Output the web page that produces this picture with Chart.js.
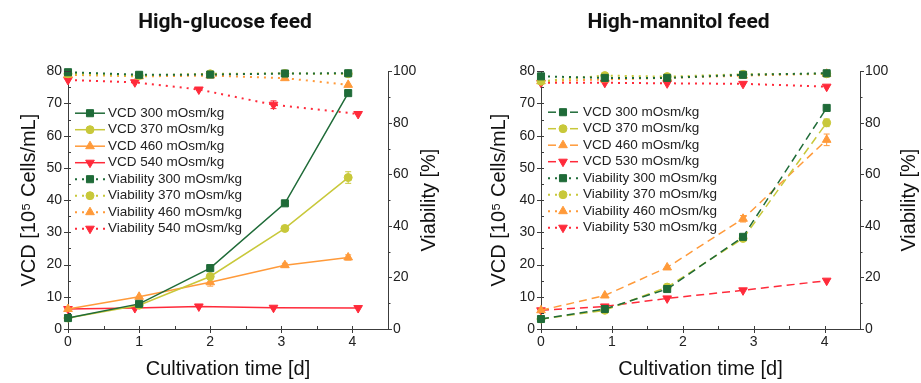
<!DOCTYPE html>
<html>
<head>
<meta charset="utf-8">
<script src="https://cdn.jsdelivr.net/npm/chart.js@4.4.1/dist/chart.umd.min.js"></script>
<style>
  html, body { margin: 0; padding: 0; background: #fff; width: 921px; height: 383px; overflow: hidden; position: relative; }
  canvas { position: absolute; top: 0; }
  #glc { left: 0; }
  #man { left: 436px; }
</style>
</head>
<body>
<canvas id="glc" width="450" height="383"></canvas>
<canvas id="man" width="485" height="383"></canvas>
<script>
// ---------- axis ticks ----------
const timeTicks = [0, 1, 2, 3, 4];
const vcdTicks = [0, 10, 20, 30, 40, 50, 60, 70, 80];
const viabilityTicks = [0, 20, 40, 60, 80, 100];

// ---------- high-glucose feed ----------
const glcTime = [0, 1, 2, 3.05, 3.94];
const glcTime540 = [0, 0.94, 1.84, 2.89, 4.08];
const glcVcd300 = [3.4, 7.8, 18.9, 39.0, 73.2];
const glcVcd370 = [3.4, 7.4, 16.3, 31.2, 47.0];
const glcVcd460 = [6.2, 10.0, 14.5, 19.8, 22.2];
const glcVcd540 = [6.2, 6.5, 7.0, 6.6, 6.5];
const glcVia300 = [99.6, 98.6, 98.7, 99.1, 99.2];
const glcVia370 = [99.0, 98.3, 99.0, 99.1, 99.0];
const glcVia460 = [98.6, 98.0, 98.3, 97.3, 94.7];
const glcVia540 = [96.6, 95.7, 92.9, 87.0, 83.4];
// standard deviations (only the visible ones are non-zero)
const glcVcd370Sd = [0, 0, 0, 0, 1.8];
const glcVcd460Sd = [0, 0, 1.2, 0.6, 0.8];
const glcVia540Sd = [0, 0, 0, 1.5, 0];

// ---------- high-mannitol feed ----------
const manTime = [0, 0.9, 1.78, 2.85, 4.03];
const manVcd300 = [3.1, 6.2, 12.4, 28.6, 68.6];
const manVcd370 = [3.1, 5.8, 13.0, 28.1, 64.0];
const manVcd460 = [5.8, 10.4, 19.1, 34.2, 58.7];
const manVcd530 = [5.8, 7.0, 9.5, 12.0, 15.0];
const manVia300 = [98.0, 97.4, 97.4, 98.6, 99.2];
const manVia370 = [96.1, 98.3, 97.9, 98.8, 99.0];
const manVia460 = [96.1, 96.8, 97.4, 98.3, 99.0];
const manVia530 = [95.5, 95.5, 95.3, 95.1, 94.0];
const manVcd370Sd = [0, 0, 0, 0, 1.2];
const manVcd460Sd = [0, 0, 0, 1.0, 1.8];

// ---------- styling ----------
const GREEN = '#1f6b38';
const YELLOW = '#c8c83a';
const ORANGE = '#ff9a3a';
const RED = '#ff2a3a';
const TEXT_FONT = "'Liberation Sans', Arial, sans-serif";

const markers = {
  square: { pointStyle: 'rect', pointRadius: 5, pointRotation: 0 },
  circle: { pointStyle: 'circle', pointRadius: 4, pointRotation: 0 },
  up:     { pointStyle: 'triangle', pointRadius: 5, pointRotation: 0 },
  down:   { pointStyle: 'triangle', pointRadius: 5, pointRotation: 180 }
};
const strokes = {
  solid:  { borderWidth: 1.5, borderDash: [] },
  dashed: { borderWidth: 1.5, borderDash: [8, 5] },
  dotted: { borderWidth: 2, borderDash: [2, 5] }
};

function series(label, xs, ys, color, marker, stroke, axis, sd) {
  const m = markers[marker];
  const s = strokes[stroke];
  return {
    label,
    data: xs.map((x, i) => ({ x, y: ys[i] })),
    errors: sd || null,
    yAxisID: axis,
    borderColor: color,
    backgroundColor: color,
    pointBackgroundColor: color,
    pointBorderColor: color,
    pointBorderWidth: 1,
    pointStyle: m.pointStyle,
    pointRadius: m.pointRadius,
    pointRotation: m.pointRotation,
    borderWidth: s.borderWidth,
    borderDash: s.borderDash,
    tension: 0,
    fill: false,
    clip: false
  };
}

// error bars (± one standard deviation) drawn behind the markers
const errorBars = {
  id: 'errorBars',
  beforeDatasetsDraw(chart) {
    const { ctx } = chart;
    ctx.save();
    ctx.setLineDash([]);
    ctx.lineWidth = 1;
    chart.data.datasets.forEach((ds, i) => {
      if (!ds.errors) return;
      const meta = chart.getDatasetMeta(i);
      const yScale = chart.scales[ds.yAxisID];
      const xScale = chart.scales.x;
      ctx.strokeStyle = ds.borderColor;
      ds.data.forEach((p, j) => {
        const e = ds.errors[j];
        if (!e) return;
        const px = xScale.getPixelForValue(p.x);
        const top = yScale.getPixelForValue(p.y + e);
        const bot = yScale.getPixelForValue(p.y - e);
        ctx.beginPath();
        ctx.moveTo(px, top); ctx.lineTo(px, bot);
        ctx.moveTo(px - 3, top); ctx.lineTo(px + 3, top);
        ctx.moveTo(px - 3, bot); ctx.lineTo(px + 3, bot);
        ctx.stroke();
      });
    });
    ctx.restore();
  }
};

// tick marks: majors cross the axis line, minors are short
const axisTicks = {
  id: 'axisTicks',
  afterDraw(chart, _args, o) {
    const { ctx, chartArea: a } = chart;
    const { x, y, y1 } = chart.scales;
    const isMajor = (scale, v) => scale.ticks.some(t => Math.abs(t.value - v) < 1e-9);
    const snap = v => Math.round(v) + 0.5;
    const seg = (ax, ay, bx, by) => { ctx.beginPath(); ctx.moveTo(ax, ay); ctx.lineTo(bx, by); ctx.stroke(); };
    ctx.save();
    ctx.strokeStyle = o.color;
    ctx.lineWidth = 1;
    ctx.setLineDash([]);
    for (let k = 0; x.min + k * o.xStep <= x.max + 1e-9; k++) {
      const v = x.min + k * o.xStep;
      const px = snap(x.getPixelForValue(v));
      if (isMajor(x, v)) seg(px, a.bottom - 3, px, a.bottom + 4);
      else seg(px, a.bottom - 3, px, a.bottom);
    }
    for (let k = 0; y.min + k * o.yStep <= y.max + 1e-9; k++) {
      const v = y.min + k * o.yStep;
      const py = snap(y.getPixelForValue(v));
      if (isMajor(y, v)) seg(a.left - 4, py, a.left + 3, py);
      else seg(a.left, py, a.left + 3, py);
    }
    for (let k = 0; y1.min + k * o.y1Step <= y1.max + 1e-9; k++) {
      const v = y1.min + k * o.y1Step;
      const py = snap(y1.getPixelForValue(v));
      if (isMajor(y1, v)) seg(a.right, py, a.right + 4, py);
      else seg(a.right, py, a.right + 2.5, py);
    }
    ctx.restore();
  }
};

// right-hand axis title, reading bottom to top like the left one
const rightAxisTitle = {
  id: 'rightAxisTitle',
  afterDraw(chart, _args, o) {
    const { ctx, chartArea: a } = chart;
    ctx.save();
    ctx.translate(chart.width - o.inset, (a.top + a.bottom) / 2);
    ctx.rotate(-Math.PI / 2);
    ctx.font = o.font;
    ctx.fillStyle = o.color;
    ctx.textAlign = 'center';
    ctx.textBaseline = 'middle';
    ctx.fillText(o.text, 0, 0);
    ctx.restore();
  }
};

// legend drawn inside the plot: line sample with its marker, then the label
const inlineLegend = {
  id: 'inlineLegend',
  afterDraw(chart, _args, o) {
    const { ctx, chartArea: a } = chart;
    ctx.save();
    ctx.font = o.font;
    ctx.textBaseline = 'middle';
    ctx.textAlign = 'left';
    chart.data.datasets.forEach((ds, i) => {
      const yy = a.top + o.top + i * o.rowHeight;
      const x0 = a.left + o.left;
      const x1 = x0 + o.sample;
      ctx.strokeStyle = ds.borderColor;
      ctx.lineWidth = ds.borderWidth;
      const dash = ds.borderDash || [];
      if (dash.length && dash[0] > 4) {
        ctx.setLineDash([]);
        const d = dash[0];
        ctx.beginPath(); ctx.moveTo(x0, yy); ctx.lineTo(x0 + d, yy); ctx.stroke();
        ctx.beginPath(); ctx.moveTo(x1 - d, yy); ctx.lineTo(x1, yy); ctx.stroke();
      } else {
        ctx.setLineDash(dash);
        ctx.beginPath(); ctx.moveTo(x0, yy); ctx.lineTo(x1, yy); ctx.stroke();
      }
      ctx.setLineDash([]);
      ctx.fillStyle = ds.pointBackgroundColor;
      ctx.strokeStyle = ds.pointBorderColor;
      ctx.lineWidth = 1;
      Chart.helpers.drawPoint(ctx, {
        pointStyle: ds.pointStyle, rotation: ds.pointRotation, radius: ds.pointRadius, borderWidth: 1
      }, (x0 + x1) / 2, yy);
      ctx.fillStyle = o.color;
      ctx.fillText(ds.label, x1 + o.gap, yy);
    });
    ctx.restore();
  }
};

function makeChart(id, title, datasets, geo) {
  const fixedTicks = arr => scale => { scale.ticks = arr.map(v => ({ value: v })); };
  return new Chart(document.getElementById(id), {
    type: 'line',
    data: { datasets },
    plugins: [errorBars, axisTicks, inlineLegend, rightAxisTitle],
    options: {
      responsive: false,
      animation: false,
      events: [],
      layout: { padding: 0 },
      scales: {
        x: {
          type: 'linear', position: 'bottom', min: 0, max: 4.5,
          afterBuildTicks: fixedTicks(timeTicks),
          afterFit: s => { s.height = geo.bottom; },
          grid: { display: false, drawTicks: false },
          border: { display: true, color: '#3c3c3c', width: 1 },
          ticks: { padding: 5, color: '#222', font: { family: TEXT_FONT, size: 14 } },
          title: { display: true, text: 'Cultivation time [d]', color: '#111',
                   font: { family: TEXT_FONT, size: 20 }, padding: { top: 0, bottom: 2 } }
        },
        y: {
          type: 'linear', position: 'left', min: 0, max: 80,
          afterBuildTicks: fixedTicks(vcdTicks),
          afterFit: s => { s.width = geo.left; },
          grid: { display: false, drawTicks: false },
          border: { display: true, color: '#3c3c3c', width: 1 },
          ticks: { padding: 6, color: '#222', font: { family: TEXT_FONT, size: 14 } },
          title: { display: true, text: 'VCD [10⁵ Cells/mL]', color: '#111',
                   font: { family: TEXT_FONT, size: 20 }, padding: { top: geo.leftTitle, bottom: 0 } }
        },
        y1: {
          type: 'linear', position: 'right', min: 0, max: 100,
          afterBuildTicks: fixedTicks(viabilityTicks),
          afterFit: s => { s.width = geo.right; },
          grid: { display: false, drawTicks: false },
          border: { display: true, color: '#3c3c3c', width: 1 },
          ticks: { padding: 5, color: '#222', font: { family: TEXT_FONT, size: 14 } },
          title: { display: false }
        }
      },
      plugins: {
        legend: { display: false },
        tooltip: { enabled: false },
        title: {
          display: true, text: title, color: '#111',
          font: { family: "Roboto, 'Liberation Sans', sans-serif", size: 21, weight: 'bold' },
          padding: { top: 10, bottom: 36 }
        },
        axisTicks: { color: '#3c3c3c', xStep: 0.5, yStep: 5, y1Step: 10 },
        rightAxisTitle: {
          text: 'Viability [%]', font: "20px 'Liberation Sans', Arial, sans-serif",
          color: '#111', inset: geo.rightTitleInset
        },
        inlineLegend: {
          font: "13.5px 'Liberation Sans', Arial, sans-serif", color: '#222',
          left: 7, top: geo.legendTop, rowHeight: 16.5, sample: 30, gap: geo.legendGap
        }
      }
    }
  });
}

makeChart('glc', 'High-glucose feed', [
  series('VCD 300 mOsm/kg', glcTime, glcVcd300, GREEN, 'square', 'solid', 'y'),
  series('VCD 370 mOsm/kg', glcTime, glcVcd370, YELLOW, 'circle', 'solid', 'y', glcVcd370Sd),
  series('VCD 460 mOsm/kg', glcTime, glcVcd460, ORANGE, 'up', 'solid', 'y', glcVcd460Sd),
  series('VCD 540 mOsm/kg', glcTime540, glcVcd540, RED, 'down', 'solid', 'y'),
  series('Viability 300 mOsm/kg', glcTime, glcVia300, GREEN, 'square', 'dotted', 'y1'),
  series('Viability 370 mOsm/kg', glcTime, glcVia370, YELLOW, 'circle', 'dotted', 'y1'),
  series('Viability 460 mOsm/kg', glcTime, glcVia460, ORANGE, 'up', 'dotted', 'y1'),
  series('Viability 540 mOsm/kg', glcTime540, glcVia540, RED, 'down', 'dotted', 'y1', glcVia540Sd)
], { left: 68, right: 62, bottom: 54, leftTitle: 17, rightTitleInset: 21, legendTop: 42, legendGap: 3 });

makeChart('man', 'High-mannitol feed', [
  series('VCD 300 mOsm/kg', manTime, manVcd300, GREEN, 'square', 'dashed', 'y'),
  series('VCD 370 mOsm/kg', manTime, manVcd370, YELLOW, 'circle', 'dashed', 'y', manVcd370Sd),
  series('VCD 460 mOsm/kg', manTime, manVcd460, ORANGE, 'up', 'dashed', 'y', manVcd460Sd),
  series('VCD 530 mOsm/kg', manTime, manVcd530, RED, 'down', 'dashed', 'y'),
  series('Viability 300 mOsm/kg', manTime, manVia300, GREEN, 'square', 'dotted', 'y1'),
  series('Viability 370 mOsm/kg', manTime, manVia370, YELLOW, 'circle', 'dotted', 'y1'),
  series('Viability 460 mOsm/kg', manTime, manVia460, ORANGE, 'up', 'dotted', 'y1'),
  series('Viability 530 mOsm/kg', manTime, manVia530, RED, 'down', 'dotted', 'y1')
], { left: 105, right: 61, bottom: 54, leftTitle: 51, rightTitleInset: 12, legendTop: 41, legendGap: 5 });
</script>
</body>
</html>
